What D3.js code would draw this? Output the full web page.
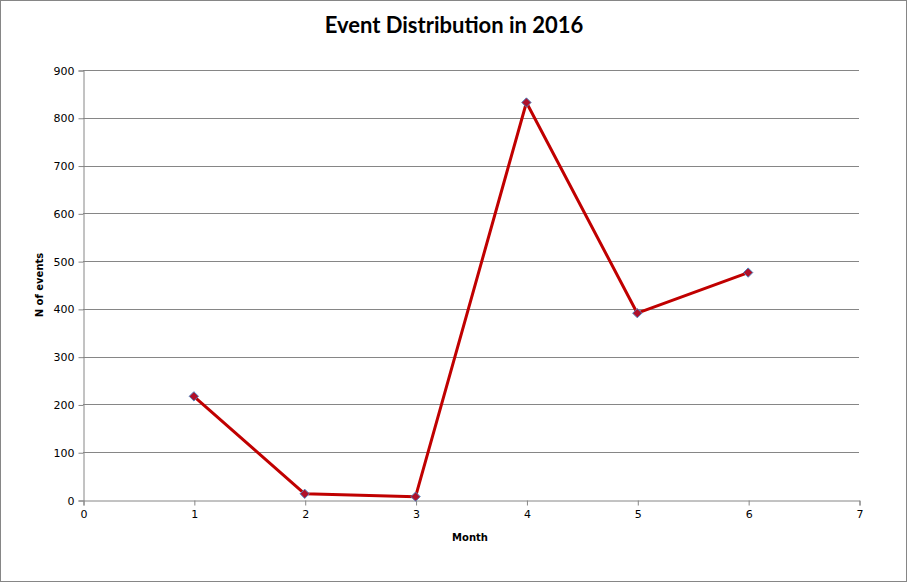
<!DOCTYPE html>
<html><head><meta charset="utf-8">
<script src="https://cdn.jsdelivr.net/npm/d3@7"></script>
<style>body{margin:0;background:#fff}svg{display:block}</style>
</head><body>
<svg id="c" width="907" height="582"></svg>
<script>
const months = [1, 2, 3, 4, 5, 6];
const events = [217, 13, 7, 832, 391, 476];
const xTicks = [0, 1, 2, 3, 4, 5, 6, 7];
const yTicks = [0, 100, 200, 300, 400, 500, 600, 700, 800, 900];
const title = "Event Distribution in 2016";
const xLabel = "Month";
const yLabel = "N of events";

const svg = d3.select("#c");
const W = 907, H = 582;
const m = {left: 83, right: 48, top: 70, bottom: 82};
svg.append("rect").attr("x", 0.5).attr("y", 0.5).attr("width", W - 1).attr("height", H - 1)
  .attr("fill", "#fff").attr("stroke", "#868686");

const x = d3.scaleLinear().domain([0, 7]).range([m.left, W - m.right]);
const y = d3.scaleLinear().domain([0, 900]).range([H - m.bottom, m.top]);

const grid = svg.append("g");
grid.selectAll("line").data(yTicks.filter(d => d > 0)).join("line")
  .attr("x1", x(0)).attr("x2", x(7))
  .attr("y1", d => Math.round(y(d)) + 0.5).attr("y2", d => Math.round(y(d)) + 0.5)
  .attr("stroke", "#868686").attr("stroke-width", 1);

const font = "Tahoma, 'DejaVu Sans', sans-serif";
const yAxis = svg.append("g").attr("transform", `translate(${x(0) + 0.5},0.5)`)
  .call(d3.axisLeft(y).tickValues(yTicks).tickSize(5).tickPadding(4).tickFormat(d3.format("d")));
const xAxis = svg.append("g").attr("transform", `translate(0.5,${y(0) + 0.5})`)
  .call(d3.axisBottom(x).tickValues(xTicks).tickSize(5).tickPadding(5).tickFormat(d3.format("d")));
[yAxis, xAxis].forEach(a => {
  a.select(".domain").attr("stroke", "#868686");
  a.selectAll(".tick line").attr("stroke", "#868686");
  a.selectAll("text").attr("fill", "#000").style("font-family", font).style("font-size", "11px");
});

const line = d3.line().x((d, i) => x(months[i])).y(d => y(d));
svg.append("path").datum(events).attr("d", line)
  .attr("fill", "none").attr("stroke", "#C00000").attr("stroke-width", 3).attr("stroke-linejoin", "round");

svg.append("g").selectAll("path").data(events).join("path")
  .attr("transform", (d, i) => `translate(${x(months[i])},${y(d)})`)
  .attr("d", d3.symbol().type(d3.symbolDiamond2).size(55))
  .attr("fill", "#B0102A").attr("stroke", "#4F81BD").attr("stroke-width", 1);

svg.append("text").attr("x", 454).attr("y", 33).attr("text-anchor", "middle")
  .style("font-family", "Lato, 'Open Sans', sans-serif").style("font-weight", "bold").style("font-size", "22px")
  .text(title);
svg.append("text").attr("x", 470).attr("y", 541).attr("text-anchor", "middle")
  .style("font-family", font).style("font-weight", "bold").style("font-size", "10px").text(xLabel);
svg.append("text").attr("transform", `translate(43,${(y(0) + y(900)) / 2}) rotate(-90)`).attr("text-anchor", "middle")
  .style("font-family", font).style("font-weight", "bold").style("font-size", "10px").text(yLabel);
</script>
</body></html>
